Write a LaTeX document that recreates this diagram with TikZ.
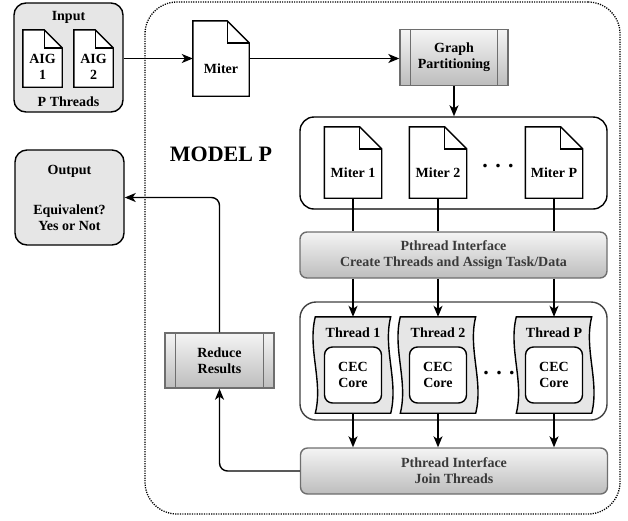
\documentclass[tikz,border=0pt]{standalone}
\usepackage{fontspec}
\setmainfont{Liberation Serif}
\usetikzlibrary{arrows.meta}
\usetikzlibrary{calc}
\usetikzlibrary{positioning}

\definecolor{boxgray}{HTML}{E6E6E6}
\definecolor{gradtop}{HTML}{F4F4F4}
\definecolor{gradbot}{HTML}{BDBDBD}
\definecolor{edgegray}{HTML}{6E6E6E}
\definecolor{textgray}{HTML}{3A3A3A}

\tikzset{
  every node/.style={font=\bfseries\fontsize{14}{16}\selectfont, align=center},
  conn/.style={line width=1.4pt, -{Stealth[length=11pt,width=9pt,inset=3pt]}},
  wire/.style={line width=1.4pt},
  graybox/.style={draw, line width=1.4pt, fill=boxgray, rounded corners=12pt},
  docbox/.style={draw=none, minimum width=57pt, minimum height=71pt, inner sep=0pt},
  groupbox/.style={draw, line width=1.4pt, rounded corners=14pt, minimum width=307pt, inner sep=0pt},
  ifacebox/.style={draw=edgegray, line width=1.4pt, rounded corners=7pt, top color=gradtop, bottom color=gradbot, text=textgray, minimum width=307pt, minimum height=46pt},
  procbox/.style={draw=edgegray, line width=1.4pt, top color=gradtop, bottom color=gradbot, minimum width=108pt, minimum height=56pt},
  threadbox/.style={minimum width=75pt, minimum height=96pt, inner sep=0pt},
  corebox/.style={draw, line width=1.4pt, fill=white, rounded corners=8pt, minimum width=57pt, minimum height=56pt},
  modelframe/.style={draw, line width=1.3pt, dash pattern=on 1.2pt off 1.2pt, rounded corners=32pt, minimum width=475pt, minimum height=512pt},
  dotsfont/.style={font=\bfseries\fontsize{22}{22}\selectfont},
}

% document outline with folded corner
\newcommand\drawdoc[2]{%
  \draw[line width=1.4pt, fill=white]
    (#1.north west) -- ([xshift=-#2]#1.north east) -- ([yshift=-#2]#1.north east)
    -- (#1.south east) -- (#1.south west) -- cycle;
  \draw[line width=1.4pt] ([xshift=-#2]#1.north east) |- ([yshift=-#2]#1.north east);
}
% wavy tape outline for a thread
\newcommand\drawtape[1]{%
  \draw[line width=1.4pt, fill=boxgray]
    (#1.north west) -- (#1.north east)
    .. controls ($(#1.north east)!0.33!(#1.south east)+(-8pt,0)$) and ($(#1.north east)!0.67!(#1.south east)+(8pt,0)$) .. (#1.south east)
    -- (#1.south west)
    .. controls ($(#1.north west)!0.67!(#1.south west)+(8pt,0)$) and ($(#1.north west)!0.33!(#1.south west)+(-8pt,0)$) .. (#1.north west) -- cycle;
}
% side bars of a process box
\newcommand\drawstripes[1]{%
  \draw[line width=1.4pt, draw=edgegray]
    ([xshift=11pt]#1.north west) -- ([xshift=11pt]#1.south west)
    ([xshift=-11pt]#1.north east) -- ([xshift=-11pt]#1.south east);
}

\begin{document}
\begin{tikzpicture}[x=1pt, y=-1pt]
\useasboundingbox (0,0) rectangle (628,520);
\node[modelframe] (model) at (382.5,258) {};
\node (title) at (221,154) {\fontsize{22}{26}\selectfont MODEL P};

% input
\node[graybox, minimum width=109pt, minimum height=109pt] (input) at (68.5,57.5) {};
\node (inlbl) at (68.5,17) {Input};
\node (plbl) at (68.5,102) {P Threads};
\node[docbox, minimum width=39pt, minimum height=57pt] (aig1) at (42.5,58.5) {};
\node[docbox, minimum width=39pt, minimum height=57pt] (aig2) at (93.5,58.5) {};
\drawdoc{aig1}{18pt}
\drawdoc{aig2}{18pt}
\node[yshift=-8pt] (aig1lbl) at (aig1) {AIG\\1};
\node[yshift=-8pt] (aig2lbl) at (aig2) {AIG\\2};

% output
\node[graybox, minimum width=109pt, minimum height=95pt] (output) at (69.5,197.5) {Output\\[24pt]Equivalent?\\Yes or Not};

% miter and partitioning
\node[docbox, minimum width=56pt, minimum height=75pt] (miter) at (221,58.5) {};
\drawdoc{miter}{22pt}
\node[yshift=-10pt] (miterlbl) at (miter) {Miter};
\node[procbox] (part) at (454,57.5) {Graph\\Partitioning};
\drawstripes{part}

% sub-miters
\node[groupbox, minimum height=92pt] (mgroup) at (453.5,163) {};
\node[docbox] (m1) at (353,162.5) {};
\node[docbox] (m2) at (438,162.5) {};
\node[docbox] (mp) at (554,162.5) {};
\drawdoc{m1}{22pt}
\drawdoc{m2}{22pt}
\drawdoc{mp}{22pt}
\node[yshift=-10pt] (m1lbl) at (m1) {Miter 1};
\node[yshift=-10pt] (m2lbl) at (m2) {Miter 2};
\node[yshift=-10pt] (mplbl) at (mp) {Miter P};
\node[dotsfont] (mdots) at (498,166) {. . .};

\node[ifacebox] (create) at (453.5,255) {Pthread Interface\\Create Threads and Assign Task/Data};

% threads
\node[groupbox, draw=black!75, rounded corners=16pt, minimum height=118pt] (tgroup) at (453.5,361) {};
\node[threadbox] (t1) at (353,365) {};
\node[threadbox] (t2) at (438,365) {};
\node[threadbox] (tp) at (554,365) {};
\drawtape{t1}
\drawtape{t2}
\drawtape{tp}
\node (t1lbl) at ([yshift=-16pt]t1.north) {Thread 1};
\node (t2lbl) at ([yshift=-16pt]t2.north) {Thread 2};
\node (tplbl) at ([yshift=-16pt]tp.north) {Thread P};
\node[corebox] (c1) at (353,375) {CEC\\Core};
\node[corebox] (c2) at (438,375) {CEC\\Core};
\node[corebox] (cp) at (554,375) {CEC\\Core};
\node[dotsfont] (tdots) at (499,373) {. . .};

\node[ifacebox] (join) at (454,471) {Pthread Interface\\Join Threads};
\node[procbox, minimum width=109pt, minimum height=55pt] (reduce) at (219.5,360.5) {Reduce\\Results};
\drawstripes{reduce}

% connectors
\draw[conn] (input.east |- miter.west) -- (miter.west);
\draw[conn] (miter.east) -- (miter.east -| part.west);
\draw[conn] (part.south) -- (part.south |- mgroup.north);
\foreach \m/\t in {m1/t1, m2/t2, mp/tp} {
  \draw[wire] (\m.south) -- (\m.south |- create.north);
  \draw[conn] (\m.south |- create.south) -- (\m.south |- \t.north);
  \draw[conn] (\t.south) -- (\t.south |- join.north);
}
\draw[conn, rounded corners=8pt] (join.west) -| (reduce.south);
\draw[conn, rounded corners=8pt] (reduce.north) |- (output.east);
\end{tikzpicture}
\end{document}
